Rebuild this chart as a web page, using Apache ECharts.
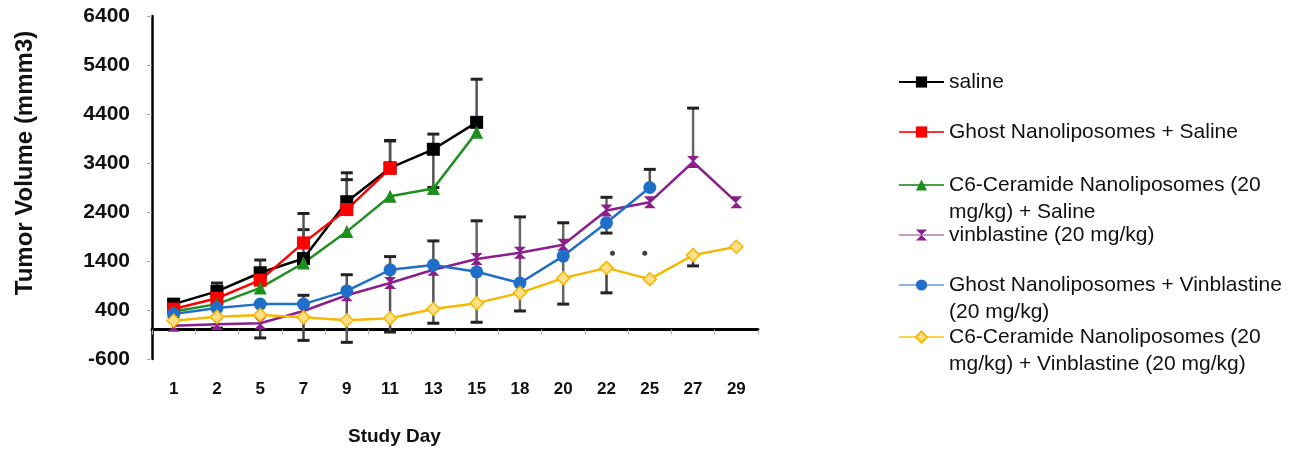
<!DOCTYPE html>
<html>
<head>
<meta charset="utf-8">
<script src="https://cdn.jsdelivr.net/npm/echarts@6/dist/echarts.min.js"></script>
<style>
  html, body { margin: 0; padding: 0; background: #fff; }
  #chart { width: 1300px; height: 454px; }
</style>
</head>
<body>
<div id="chart"></div>
<script>
// Study days (category axis)
const days = ['1', '2', '5', '7', '9', '11', '13', '15', '18', '20', '22', '25', '27', '29'];

// Group names
const names = [
  'saline',
  'Ghost Nanoliposomes + Saline',
  'C6-Ceramide Nanoliposomes (20 mg/kg) + Saline',
  'vinblastine (20 mg/kg)',
  'Ghost Nanoliposomes + Vinblastine (20 mg/kg)',
  'C6-Ceramide Nanoliposomes (20 mg/kg) + Vinblastine (20 mg/kg)'
];

// Mean tumor volume (mm3) per study day
const saline       = [520, 780, 1160, 1450, 2610, 3300, 3680, 4230];
const ghostSaline  = [420, 640, 1010, 1770, 2450, 3290];
const c6Saline     = [370, 520, 850, 1360, 2000, 2720, 2880, 4030];
const vinblastine  = [80, 110, 130, 380, 700, 950, 1220, 1440, 1570, 1730, 2430, 2600, 3420, 2600];
const ghostVinb    = [320, 440, 520, 520, 790, 1220, 1320, 1180, 950, 1500, 2180, 2900];
const c6Vinb       = [180, 260, 300, 250, 190, 230, 420, 540, 750, 1050, 1260, 1030, 1520, 1690];

// Error bar lengths (upper / lower)
const salineUp      = [80, 170, 260, 590, 590, 560, 310, 880];
const salineDown    = [0, 0, 0, 0, 0, 0, 780, 0];
const ghostSalineUp = [0, 0, 0, 600, 610, 560];
const ghostSalineDn = [0, 0, 0, 0, 0, 0];
const vinUp         = [0, 0, 0, 0, 0, 0, 0, 780, 730, 450, 270, 0, 1100, 0];
const vinDown       = [0, 0, 0, 0, 0, 0, 0, 1290, 1190, 1210, 0, 0, 0, 0];
const ghostVinbUp   = [0, 0, 0, 0, 330, 270, 490, 0, 0, 0, 0, 370];
const ghostVinbDn   = [0, 0, 0, 0, 1050, 1270, 1190, 0, 0, 0, 210, 0];
const c6VinbUp      = [0, 230, 0, 450, 0, 0, 0, 0, 0, 0, 0, 0, 0, 0];
const c6VinbDown    = [0, 230, 470, 470, 0, 0, 0, 0, 0, 0, 510, 0, 220, 0];

// Significance marks
const sigDays = ['22', '25'];
const sigLevel = 1560;

// Y axis range
const yMin = -600, yMax = 6400, yStep = 1000;

const FONT = '"Liberation Sans", Arial, sans-serif';

function errRows(vals, up, down) {
  return vals.map((v, i) => [i, v, up[i], down[i]]);
}

function errorBars(color) {
  return function (params, api) {
    const i = api.value(0), v = api.value(1), up = api.value(2), dn = api.value(3);
    const c = api.coord([i, v]);
    const half = 6;
    const kids = [];
    const bar = { stroke: color, lineWidth: 2.5 };
    const cap = { stroke: '#222', lineWidth: 3 };
    if (up > 0) {
      const t = api.coord([i, v + up]);
      kids.push({ type: 'line', shape: { x1: c[0], y1: c[1], x2: t[0], y2: t[1] }, style: bar });
      kids.push({ type: 'line', shape: { x1: t[0] - half, y1: t[1], x2: t[0] + half, y2: t[1] }, style: cap });
    }
    if (dn > 0) {
      const b = api.coord([i, v - dn]);
      kids.push({ type: 'line', shape: { x1: c[0], y1: c[1], x2: b[0], y2: b[1] }, style: bar });
      kids.push({ type: 'line', shape: { x1: b[0] - half, y1: b[1], x2: b[0] + half, y2: b[1] }, style: cap });
    }
    return { type: 'group', children: kids };
  };
}

function errSeries(rows, color) {
  return {
    type: 'custom',
    data: rows,
    encode: { x: 0, y: 1 },
    renderItem: errorBars(color),
    z: 1,
    silent: true
  };
}

function lineSeries(name, data, color, symbol, size, fill) {
  return {
    name: name,
    type: 'line',
    data: data,
    symbol: symbol,
    symbolSize: size,
    z: 3,
    lineStyle: { color: color, width: 2.5 },
    itemStyle: { color: fill || color, borderColor: color, borderWidth: fill ? 1.5 : 0 }
  };
}

const wrapped = {
  [names[2]]: '\nC6-Ceramide Nanoliposomes (20\nmg/kg) + Saline',
  [names[4]]: '\nGhost Nanoliposomes + Vinblastine\n(20 mg/kg)',
  [names[5]]: '\nC6-Ceramide Nanoliposomes (20\nmg/kg) + Vinblastine (20 mg/kg)'
};

const legendTops = [68.5, 118.5, 144.5, 221.5, 244.5, 296.5];
const legendLine = ['#000', '#ff3030', '#4aa04a', '#c79ac7', '#8fb3e0', '#ffd24d'];

const legends = names.map((n, k) => ({
  data: [{ name: n, lineStyle: { color: legendLine[k] } }],
  left: 898,
  top: legendTops[k],
  padding: 0,
  itemWidth: 45,
  itemHeight: 14,
  selectedMode: false,
  formatter: (name) => wrapped[name] || name,
  textStyle: { fontFamily: FONT, fontSize: 21, color: '#111', lineHeight: 27 }
}));

const chart = echarts.init(document.getElementById('chart'), null, { renderer: 'canvas' });

chart.setOption({
  animation: false,
  backgroundColor: '#fff',
  title: {
    text: 'Study Day',
    left: 348,
    top: 427,
    padding: 0,
    textStyle: { fontFamily: FONT, fontSize: 19, fontWeight: 'bold', color: '#111' }
  },
  graphic: [{
    type: 'text',
    x: 25,
    y: 163,
    rotation: Math.PI / 2,
    style: {
      text: 'Tumor Volume (mmm3)',
      fontFamily: FONT,
      fontSize: 24,
      fontWeight: 'bold',
      fill: '#111',
      align: 'center',
      verticalAlign: 'middle'
    }
  }],
  legend: legends,
  grid: { left: 152, right: 542, top: 16, bottom: 95 },
  xAxis: {
    type: 'category',
    data: days,
    boundaryGap: true,
    axisLine: { onZero: true, lineStyle: { color: '#000', width: 3 } },
    axisTick: { show: true, length: 5, lineStyle: { color: '#aaa', width: 1 } },
    axisLabel: { margin: 22, fontFamily: FONT, fontSize: 17, fontWeight: 'bold', color: '#111' },
    splitLine: { show: false }
  },
  yAxis: {
    type: 'value',
    min: yMin,
    max: yMax,
    interval: yStep,
    axisLine: { show: true, lineStyle: { color: '#000', width: 2.5 } },
    axisTick: { show: true, length: 5, lineStyle: { color: '#aaa', width: 1 } },
    axisLabel: {
      margin: 22, fontFamily: FONT, fontSize: 21, fontWeight: 'bold', color: '#111',
      formatter: (v) => String(v)
    },
    splitLine: { show: false }
  },
  series: [
    errSeries(errRows(saline, salineUp, salineDown), '#555'),
    errSeries(errRows(ghostSaline, ghostSalineUp, ghostSalineDn), '#555'),
    errSeries(errRows(vinblastine, vinUp, vinDown), '#666'),
    errSeries(errRows(ghostVinb, ghostVinbUp, ghostVinbDn), '#555'),
    errSeries(errRows(c6Vinb, c6VinbUp, c6VinbDown), '#444'),
    lineSeries(names[0], saline, '#000000', 'rect', 13),
    lineSeries(names[1], ghostSaline, '#ff0000', 'rect', 13),
    lineSeries(names[2], c6Saline, '#1f8f1f', 'triangle', 13),
    lineSeries(names[3], vinblastine, '#8b1f8b', 'path://M0,0L10,0L0,10L10,10Z', 12),
    lineSeries(names[4], ghostVinb, '#1f6fc8', 'circle', 13),
    lineSeries(names[5], c6Vinb, '#f5b800', 'diamond', 13, '#ffe08a'),
    {
      type: 'scatter',
      data: sigDays.map((d, k) => ({ value: [d, sigLevel], symbolOffset: [k === 0 ? 6 : -5, 0] })),
      symbol: 'circle',
      symbolSize: 5,
      itemStyle: { color: '#111' },
      z: 4,
      silent: true
    }
  ]
});
</script>
</body>
</html>
